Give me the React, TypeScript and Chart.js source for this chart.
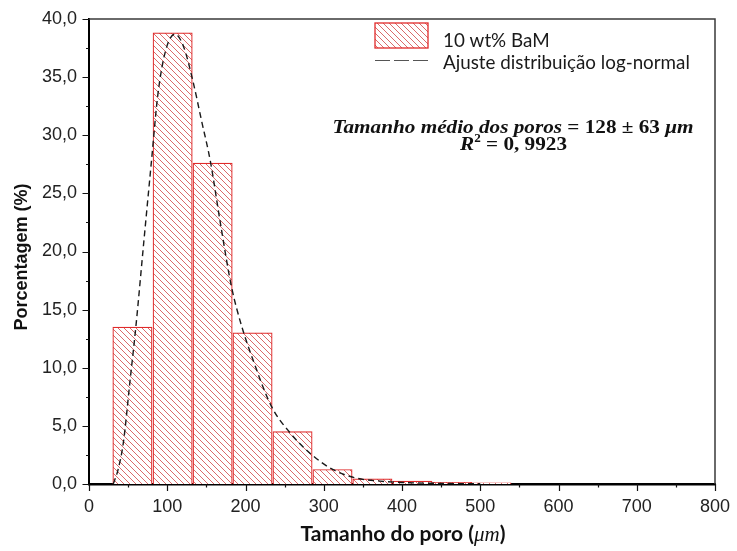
import React, { useEffect, useRef } from "react";
import { Chart, registerables } from "chart.js";

Chart.register(...registerables);

// ---- data ----
const binCenters = [55.5, 106.9, 158.0, 209.0, 260.1, 311.2, 362.2, 413.3, 464.1, 514.3];
const binPercent = [13.5, 38.8, 27.6, 13.0, 4.5, 1.25, 0.45, 0.25, 0.15, 0.1];

const fitX = [31, 37, 44, 52, 60, 70, 80, 88, 98, 110, 121, 133, 144, 155, 168, 182, 195, 210, 233, 257, 285, 312, 342, 372, 400, 450, 500];
const fitY = [0, 1.2, 3.6, 8.6, 13.6, 20.8, 27.9, 33.5, 37.3, 38.7, 37.6, 34.6, 31.2, 27.8, 22.4, 17.0, 13.6, 10.6, 6.7, 4.4, 2.5, 1.23, 0.5, 0.25, 0.13, 0.05, 0.02];

const xMin = 0;
const xMax = 800;
const xMajor = 100;
const xMinor = 50;
const yMin = 0;
const yMax = 40;
const yMajor = 5;
const yMinor = 2.5;

const seriesLabels = ["10 wt% BaM", "Ajuste distribuição log-normal"];
const xTitleParts = ["Tamanho do poro (", "μm", ")"];
const yTitle = "Porcentagem (%)";
const noteLine1 = [
  { t: "Tamanho médio dos poros", it: true },
  { t: " = 128 ± 63 ", it: false },
  { t: "μm", it: true },
];
const noteLine2 = [
  { t: "R", it: true },
  { t: "2", it: false, sup: true },
  { t: " = 0, 9923", it: false },
];

function makeHatch(): CanvasPattern | string {
  const s = 6;
  const c = document.createElement("canvas");
  c.width = s;
  c.height = s;
  const g = c.getContext("2d");
  if (!g) return "#fff";
  g.fillStyle = "#ffffff";
  g.fillRect(0, 0, s, s);
  g.strokeStyle = "rgba(212,80,80,0.85)";
  g.lineWidth = 1;
  g.beginPath();
  g.moveTo(-1, -1);
  g.lineTo(s + 1, s + 1);
  g.moveTo(-1, s - 1);
  g.lineTo(1, s + 1);
  g.moveTo(s - 1, -1);
  g.lineTo(s + 1, 1);
  g.stroke();
  return g.createPattern(c, "repeat") || "#fff";
}

function drawSegs(
  ctx: CanvasRenderingContext2D,
  segs: { t: string; it: boolean; sup?: boolean }[],
  cx: number,
  baseline: number,
  family: string,
  size: number,
  scaleX: number | null,
  targetWidth: number | null
) {
  const fontFor = (s: { it: boolean; sup?: boolean }) =>
    `${s.it ? "italic " : ""}bold ${s.sup ? size * 0.62 : size}px ${family}`;
  const total = segs.reduce((acc, s) => {
    ctx.font = fontFor(s);
    return acc + ctx.measureText(s.t).width;
  }, 0);
  const k = scaleX ?? (targetWidth ? targetWidth / total : 1);
  ctx.save();
  ctx.translate(cx - (total * k) / 2, baseline);
  ctx.scale(k, 1);
  let x = 0;
  ctx.textAlign = "left";
  ctx.textBaseline = "alphabetic";
  for (const s of segs) {
    ctx.font = fontFor(s);
    ctx.fillText(s.t, x, s.sup ? -size * 0.42 : 0);
    x += ctx.measureText(s.t).width;
  }
  ctx.restore();
  return k;
}

export default function App() {
  const ref = useRef<HTMLCanvasElement | null>(null);

  useEffect(() => {
    document.body.style.margin = "0";
    const canvas = ref.current;
    if (!canvas) return;
    const hatch = makeHatch();
    const barRed = "#e02a2a";

    const decor = {
      id: "decor",
      afterDraw(chart: any) {
        const { ctx, chartArea: a, scales } = chart;
        const xs = scales.x;
        const ys = scales.y;
        ctx.save();
        // frame top and right
        ctx.strokeStyle = "#3a3a3a";
        ctx.lineWidth = 1.5;
        ctx.beginPath();
        ctx.moveTo(a.left, a.top);
        ctx.lineTo(a.right, a.top);
        ctx.lineTo(a.right, a.bottom);
        ctx.stroke();

        // tick marks (outward)
        ctx.strokeStyle = "#111";
        ctx.lineWidth = 1.2;
        ctx.beginPath();
        for (let v = xMin; v <= xMax + 1e-6; v += xMinor) {
          const px = Math.round(xs.getPixelForValue(v)) + 0.5;
          const len = Math.abs(v % xMajor) < 1e-6 ? 7 : 3.5;
          ctx.moveTo(px, a.bottom);
          ctx.lineTo(px, a.bottom + len);
        }
        for (let v = yMin; v <= yMax + 1e-6; v += yMinor) {
          const py = Math.round(ys.getPixelForValue(v)) + 0.5;
          const len = Math.abs(v % yMajor) < 1e-6 ? 6.5 : 3;
          ctx.moveTo(a.left, py);
          ctx.lineTo(a.left - len, py);
        }
        ctx.stroke();

        // legend
        const bx = 375, by = 23, bw = 53, bh = 25;
        ctx.fillStyle = hatch as any;
        ctx.fillRect(bx, by, bw, bh);
        ctx.strokeStyle = barRed;
        ctx.lineWidth = 1.3;
        ctx.strokeRect(bx, by, bw, bh);
        ctx.strokeStyle = "#555";
        ctx.lineWidth = 1.2;
        ctx.setLineDash([15, 4]);
        ctx.beginPath();
        ctx.moveTo(bx, 60.5);
        ctx.lineTo(bx + bw, 60.5);
        ctx.stroke();
        ctx.setLineDash([]);

        ctx.fillStyle = "#1a1a1a";
        ctx.font = `20px Lato`;
        const w20 = ctx.measureText(seriesLabels[1]).width;
        const legSize = (20 * 247) / w20;
        ctx.font = `${legSize}px Lato`;
        ctx.textAlign = "left";
        ctx.textBaseline = "alphabetic";
        ctx.fillText(seriesLabels[0], 443, 47);
        ctx.fillText(seriesLabels[1], 443, 68.5);

        // annotation
        ctx.fillStyle = "#111";
        const k = drawSegs(ctx, noteLine1, 513, 132.5, '"Liberation Serif"', 19, null, 361);
        drawSegs(ctx, noteLine2, 513.5, 150, '"Liberation Serif"', 19, k, null);

        // x title
        ctx.fillStyle = "#111";
        const xSegs = [
          { t: xTitleParts[0], f: "bold" },
          { t: xTitleParts[1], f: "italic" },
          { t: xTitleParts[2], f: "bold" },
        ];
        const famFor = (f: string, s: number) =>
          f === "italic" ? `italic ${s}px "Liberation Serif"` : `bold ${s}px Lato`;
        let tot = 0;
        for (const s of xSegs) {
          ctx.font = famFor(s.f, 20);
          tot += ctx.measureText(s.t).width;
        }
        const xs2 = (20 * 205) / tot;
        tot = 0;
        for (const s of xSegs) {
          ctx.font = famFor(s.f, xs2);
          tot += ctx.measureText(s.t).width;
        }
        let xx = 403 - tot / 2;
        for (const s of xSegs) {
          ctx.font = famFor(s.f, xs2);
          ctx.fillText(s.t, xx, 541);
          xx += ctx.measureText(s.t).width;
        }

        // y title
        ctx.translate(22, 257);
        ctx.rotate(-Math.PI / 2);
        ctx.font = `bold 18px "Liberation Sans", Arial, sans-serif`;
        ctx.textAlign = "center";
        ctx.textBaseline = "middle";
        ctx.fillText(yTitle, 0, 0);
        ctx.restore();
      },
    };

    const chart = new Chart(canvas, {
      type: "bar",
      data: {
        datasets: [
          {
            type: "line",
            label: seriesLabels[1],
            data: fitX.map((x, i) => ({ x, y: fitY[i] })),
            borderColor: "#1a1a1a",
            borderWidth: 1.4,
            borderDash: [6, 4],
            pointRadius: 0,
            fill: false,
            cubicInterpolationMode: "monotone",
            order: 1,
          } as any,
          {
            type: "bar",
            label: seriesLabels[0],
            data: binCenters.map((x, i) => ({ x, y: binPercent[i] })),
            backgroundColor: hatch as any,
            borderColor: barRed,
            borderWidth: 1.2,
            barPercentage: 1,
            categoryPercentage: 1,
            order: 2,
          } as any,
        ],
      },
      options: {
        responsive: false,
        animation: false,
        devicePixelRatio: 1,
        layout: { padding: { top: 19, right: 22, left: 0, bottom: 0 } },
        plugins: { legend: { display: false }, tooltip: { enabled: false } },
        scales: {
          x: {
            type: "linear",
            min: xMin,
            max: xMax,
            offset: false,
            grid: { display: false, drawTicks: false },
            border: { display: true, color: "#000", width: 2.5 },
            ticks: {
              stepSize: xMajor,
              padding: 12,
              autoSkip: false,
              maxRotation: 0,
              color: "#222",
              font: { family: '"Liberation Sans", Arial, sans-serif', size: 18 },
            },
            afterFit: (s: any) => {
              s.height = 67;
              s.paddingLeft = 0;
              s.paddingRight = 0;
            },
          },
          y: {
            type: "linear",
            min: yMin,
            max: yMax,
            grid: { display: false, drawTicks: false },
            border: { display: true, color: "#000", width: 2 },
            ticks: {
              stepSize: yMajor,
              padding: 12,
              color: "#222",
              font: { family: '"Liberation Sans", Arial, sans-serif', size: 18 },
              callback: (v: any) => Number(v).toFixed(1).replace(".", ","),
            },
            afterFit: (s: any) => {
              s.width = 89;
              s.paddingTop = 0;
              s.paddingBottom = 0;
            },
          },
        },
      } as any,
      plugins: [decor],
    });
    return () => chart.destroy();
  }, []);

  return (
    <div style={{ width: 737, height: 551, background: "#fff" }}>
      <canvas ref={ref} width={737} height={551} />
    </div>
  );
}
